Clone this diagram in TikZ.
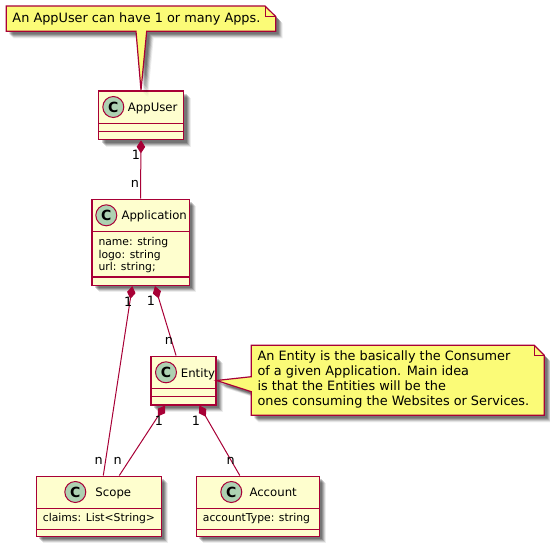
\documentclass[tikz,border=0pt]{standalone}
\usepackage{fontspec}
\setmainfont{DejaVu Sans}
\usepackage{tikz}
\usetikzlibrary{arrows.meta,shadows}
\definecolor{umlline}{HTML}{A80036}
\definecolor{umlfill}{HTML}{FEFECE}
\definecolor{umlnote}{HTML}{FBFB77}
\definecolor{umlspot}{HTML}{ADD1B2}
\tikzset{
  umlshadow/.style={
    general shadow={shadow xshift=3pt,shadow yshift=-3pt,fill=black,opacity=0.18},
    general shadow={shadow xshift=4pt,shadow yshift=-4pt,fill=black,opacity=0.18},
    general shadow={shadow xshift=5pt,shadow yshift=-5pt,fill=black,opacity=0.16},
    general shadow={shadow xshift=6pt,shadow yshift=-6pt,fill=black,opacity=0.12},
    general shadow={shadow xshift=7pt,shadow yshift=-7pt,fill=black,opacity=0.07}},
  classbox/.style={draw=umlline,line width=1.6pt,fill=umlfill,umlshadow,inner sep=0pt},
  classrule/.style={draw=umlline,line width=1.3pt},
  spot/.style={circle,draw=umlline,line width=1pt,fill=umlspot,minimum size=21pt,inner sep=0pt,font=\fontsize{14}{14}\bfseries\selectfont},
  titletext/.style={anchor=base west,inner sep=0pt,font=\fontsize{11.7}{14}\selectfont},
  membertext/.style={anchor=base west,inner sep=0pt,font=\fontsize{10.8}{12}\selectfont},
  notetext/.style={anchor=north west,inner sep=0pt,align=left,font=\fontsize{12.85}{15}\selectfont},
  endtext/.style={inner sep=0pt,font=\fontsize{12.8}{14}\selectfont},
  notebody/.style={draw=umlline,line width=1.2pt,fill=umlnote,umlshadow},
  assoc/.style={draw=umlline,line width=1pt},
  comp/.style={assoc,{Diamond[length=13pt,width=8.5pt,fill=umlline]}-}
}
\begin{document}
\begin{tikzpicture}[x=1pt,y=1pt]
\useasboundingbox (0,0) rectangle (550,-549);

\node (appuser) [classbox,minimum width=85pt,minimum height=48.5pt] at (141,-115.25) {};
\node (application) [classbox,minimum width=97.6pt,minimum height=86pt] at (140.5,-242.3) {};
\node (entity) [classbox,minimum width=64.7pt,minimum height=48.4pt] at (183.35,-380.5) {};
\node (scope) [classbox,minimum width=125pt,minimum height=60pt] at (98.8,-506.3) {};
\node (account) [classbox,minimum width=123pt,minimum height=60pt] at (257.8,-506.3) {};

\draw[classrule] (98.5,-123.4) -- (183.5,-123.4);
\draw[classrule] (98.5,-131.6) -- (183.5,-131.6);
\draw[classrule] (91.7,-231.7) -- (189.3,-231.7);
\draw[classrule] (91.7,-277) -- (189.3,-277);
\draw[classrule] (151,-388.7) -- (215.7,-388.7);
\draw[classrule] (151,-396.4) -- (215.7,-396.4);
\draw[classrule] (36.3,-508.3) -- (161.3,-508.3);
\draw[classrule] (36.3,-529.3) -- (161.3,-529.3);
\draw[classrule] (196.3,-508.3) -- (319.3,-508.3);
\draw[classrule] (196.3,-529.3) -- (319.3,-529.3);

\node (appuserspot) [spot] at (113.3,-107) {C};
\node (applicationspot) [spot] at (106.3,-215.3) {C};
\node (entityspot) [spot] at (166,-372.3) {C};
\node (scopespot) [spot] at (75.3,-492) {C};
\node (accountspot) [spot] at (231.3,-492) {C};

\node (appusertitle) [titletext] at (127.7,-111) {AppUser};
\node (applicationtitle) [titletext] at (121.3,-219.3) {Application};
\node (entitytitle) [titletext] at (180.7,-377.3) {Entity};
\node (scopetitle) [titletext] at (95.3,-496) {Scope};
\node (accounttitle) [titletext] at (249.3,-496) {Account};

\node (appname) [membertext] at (98.3,-245.3) {name: string};
\node (applogo) [membertext] at (98.3,-258) {logo: string};
\node (appurl) [membertext] at (98.3,-270.7) {url: string;};
\node (scopeclaims) [membertext] at (42.7,-521.7) {claims: List<String>};
\node (accounttype) [membertext] at (202.7,-521.7) {accountType: string};

\path[notebody] (6.3,-6) -- (265,-6) -- (275.7,-16.5) -- (275.7,-31.3) -- (146.7,-31.3)
  -- (appuser.north) -- (136,-31.3) -- (6.3,-31.3) -- cycle;
\draw[classrule,line width=0.8pt] (265,-6) -- (265,-16.5) -- (275.7,-16.5);
\path[notebody] (251.3,-345.3) -- (534.3,-345.3) -- (544.3,-355.3) -- (544.3,-415.3) -- (251.3,-415.3)
  -- (251.3,-391.7) -- (entity.east) -- (251.3,-376.7) -- cycle;
\draw[classrule,line width=0.8pt] (534.3,-345.3) -- (534.3,-355.3) -- (544.3,-355.3);

\node (usernote) [notetext] at (12.3,-12.5) {An AppUser can have 1 or many Apps.};
\node (entitynote) [notetext] at (257.3,-350.5) {An Entity is the basically the Consumer\\of a given Application. Main idea\\is that the Entities will be the\\ones consuming the Websites or Services.};

\draw[comp] (appuser.south) -- (application.north);
\draw[comp] ([xshift=-8.2pt]application.south) -- ([xshift=4.5pt]scope.north);
\draw[comp] ([xshift=14.5pt]application.south) -- ([xshift=-7.3pt]entity.north);
\draw[comp] ([xshift=-18.3pt]entity.south) -- ([xshift=20.5pt]scope.north);
\draw[comp] ([xshift=16pt]entity.south) -- ([xshift=-18pt]account.north);

\node (appuserone) [endtext] at (136,-155) {1};
\node (applicationn) [endtext] at (135,-184) {n};
\node (scopeone) [endtext] at (128.3,-301.7) {1};
\node (entityone) [endtext] at (151,-300.7) {1};
\node (entityn) [endtext] at (169,-341) {n};
\node (leftone) [endtext] at (159,-420.7) {1};
\node (rightone) [endtext] at (196,-420.7) {1};
\node (scopen) [endtext] at (98.7,-461) {n};
\node (scopem) [endtext] at (117.7,-461) {n};
\node (accountn) [endtext] at (230.7,-461) {n};
\end{tikzpicture}
\end{document}
